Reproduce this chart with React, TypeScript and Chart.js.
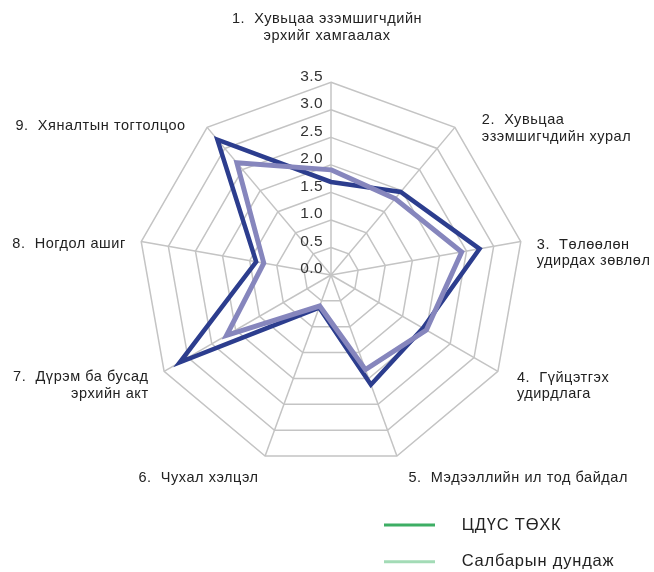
import React, { useEffect, useRef } from "react";
import { Chart, registerables } from "chart.js";

Chart.register(...registerables);

const categories: string[][] = [
  ["1.  Хувьцаа эзэмшигчдийн", "эрхийг хамгаалах"],
  ["2.  Хувьцаа", "эзэмшигчдийн хурал"],
  ["3.  Төлөөлөн", "удирдах зөвлөл"],
  ["4.  Гүйцэтгэх", "удирдлага"],
  ["5.  Мэдээллийн ил тод байдал"],
  ["6.  Чухал хэлцэл"],
  ["7.  Дүрэм ба бусад", "эрхийн акт"],
  ["8.  Ногдол ашиг"],
  ["9.  Хяналтын тогтолцоо"],
];

const seriesNames = ["ЦДҮС ТӨХК", "Салбарын дундаж"];
const companyValues = [1.69, 1.97, 2.74, 1.93, 2.12, 0.63, 3.17, 1.38, 3.21];
const sectorValues = [1.91, 1.81, 2.41, 2.0, 1.83, 0.6, 2.19, 1.24, 2.66];
const tickLabels = ["0.0", "0.5", "1.0", "1.5", "2.0", "2.5", "3.0", "3.5"];

// label placement relative to the outer vertex of each axis (layout only)
const labelPlacement: { align: CanvasTextAlign; dx: number; dy: number }[] = [
  { align: "center", dx: -4, dy: -55 },
  { align: "left", dx: 27, dy: 1 },
  { align: "left", dx: 16, dy: 11.5 },
  { align: "left", dx: 19, dy: 14.5 },
  { align: "left", dx: 11.5, dy: 22 },
  { align: "right", dx: -6.5, dy: 22 },
  { align: "right", dx: -15.5, dy: 14 },
  { align: "right", dx: -15.5, dy: 2.5 },
  { align: "right", dx: -21.5, dy: -1.4 },
];

const FONT = "'Liberation Sans', Arial, Helvetica, sans-serif";
const darkColor = "#2c3d8e";
const lightColor = "#8686bd";
const legendColors = ["#3dae64", "#a3dbb6"];

const customDraw = {
  id: "customDraw",
  afterDraw(chart: any) {
    const ctx = chart.ctx as any;
    const scale = chart.scales.r;
    ctx.save();
    // tick labels
    ctx.font = `15.5px ${FONT}`;
    ctx.letterSpacing = "0.4px";
    ctx.fillStyle = "#333333";
    ctx.textAlign = "right";
    ctx.textBaseline = "middle";
    tickLabels.forEach((t) => {
      const d = scale.getDistanceFromCenterForValue(parseFloat(t));
      ctx.fillText(t, scale.xCenter - 8.1, scale.yCenter - d - 6);
    });
    // point labels
    ctx.font = `14.5px ${FONT}`;
    ctx.letterSpacing = "0.55px";
    ctx.fillStyle = "#222222";
    const lh = 16.5;
    categories.forEach((lines, i) => {
      const p = scale.getPointPosition(i, scale.drawingArea);
      const pl = labelPlacement[i];
      ctx.textAlign = pl.align;
      const cy = p.y + pl.dy;
      const top = cy - ((lines.length - 1) * lh) / 2;
      lines.forEach((ln, k) => {
        ctx.fillText(ln, p.x + pl.dx, top + k * lh);
      });
    });
    // legend
    ctx.font = `16.5px ${FONT}`;
    ctx.letterSpacing = "0.8px";
    ctx.fillStyle = "#222222";
    ctx.textAlign = "left";
    seriesNames.forEach((name, i) => {
      const y = 525 + i * 36.7;
      ctx.strokeStyle = legendColors[i];
      ctx.lineWidth = 3;
      ctx.beginPath();
      ctx.moveTo(384, y);
      ctx.lineTo(435, y);
      ctx.stroke();
      ctx.fillText(name, 461.7, y);
    });
    ctx.restore();
  },
};

export default function App() {
  const ref = useRef<HTMLCanvasElement | null>(null);
  useEffect(() => {
    if (!ref.current) return;
    const chart = new Chart(ref.current, {
      type: "radar",
      data: {
        labels: categories.map((c) => c.join(" ")),
        datasets: [
          {
            label: seriesNames[0],
            data: companyValues,
            borderColor: darkColor,
            backgroundColor: "transparent",
            borderWidth: 4.5,
            pointRadius: 0,
            fill: false,
            borderJoinStyle: "miter",
            order: 1,
          },
          {
            label: seriesNames[1],
            data: sectorValues,
            borderColor: lightColor,
            backgroundColor: "transparent",
            borderWidth: 5,
            pointRadius: 0,
            fill: false,
            borderJoinStyle: "miter",
            order: 0,
          },
        ],
      },
      plugins: [customDraw],
      options: {
        responsive: false,
        animation: false,
        plugins: { legend: { display: false }, tooltip: { enabled: false } },
        elements: { line: { tension: 0 } },
        scales: {
          r: {
            min: 0,
            max: 3.5,
            ticks: { stepSize: 0.5, display: false },
            pointLabels: { display: false },
            grid: { color: "#c4c4c4", lineWidth: 1.5, circular: false },
            angleLines: { color: "#c4c4c4", lineWidth: 1.5 },
            afterFit: (scale: any) => {
              scale.xCenter = 331;
              scale.yCenter = 275;
              scale.drawingArea = 192.7;
            },
          },
        },
      },
    });
    return () => chart.destroy();
  }, []);
  return (
    <div style={{ position: "fixed", left: 0, top: 0, width: 654, height: 572, background: "#ffffff" }}>
      <canvas ref={ref} width={654} height={572} />
    </div>
  );
}
